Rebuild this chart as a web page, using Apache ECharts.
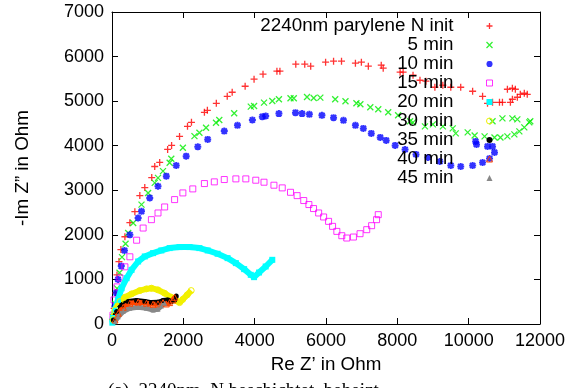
<!DOCTYPE html>
<html>
<head>
<meta charset="utf-8">
<script src="https://cdn.jsdelivr.net/npm/echarts@6/dist/echarts.min.js"></script>
<style>
  html, body { margin: 0; padding: 0; background: #fff; }
  #chart { width: 582px; height: 388px; }
</style>
</head>
<body>
<div id="chart"></div>
<script>
// legend names
const seriesNames = ['2240nm parylene N init', '5 min', '10 min', '15 min', '20 min', '30 min', '35 min', '40 min', '45 min'];

// axis ticks
const xTicks = [0, 2000, 4000, 6000, 8000, 10000, 12000];
const yTicks = [0, 1000, 2000, 3000, 4000, 5000, 6000, 7000];

// [Re Z', -Im Z''] in Ohm
const initPts = [[20,100],[60,350],[100,700],[140,1100],[195,1400],[250,1670],[362,1958],[501,2273],[641,2521],[780,2881],[919,3061],[1114,3286],[1198,3534],[1337,3624],[1560,3916],[1671,4006],[1894,4209],[2117,4434],[2228,4524],[2591,4749],[2674,4794],[2925,4952],[3231,5109],[3370,5199],[3733,5334],[3983,5492],[4234,5604],[4624,5672],[4708,5672],[5153,5829],[5404,5829],[5571,5784],[5989,5874],[6212,5897],[6435,5897],[6825,5852],[6992,5874],[7187,5784],[7549,5807],[7604,5739],[8078,5649],[8162,5649],[8440,5582],[8635,5469],[8802,5447],[9053,5312],[9276,5357],[9499,5312],[9777,5312],[10111,5222],[10390,5109],[10529,4952],[10669,4974],[10864,4974],[10947,4974],[11170,4974],[11226,5042],[11365,5087],[11448,5154],[11560,5177],[11643,5154],[11086,5267],[11226,5289],[11309,5267]];
const min5Pts = [[30,150],[90,450],[140,800],[210,1150],[280,1500],[380,1800],[454,2041],[594,2266],[827,2678],[1012,2941],[1198,3166],[1290,3279],[1430,3429],[1616,3616],[1662,3706],[1987,3953],[2312,4216],[2451,4291],[2637,4404],[2916,4517],[3008,4576],[3426,4727],[3891,4877],[3983,4892],[4262,4967],[4494,5004],[4680,5042],[5005,5064],[5097,5064],[5468,5094],[5655,5072],[5841,5079],[6258,5042],[6546,4997],[6853,4952],[6964,4929],[7242,4862],[7465,4817],[7744,4749],[8022,4682],[8357,4547],[8440,4524],[8774,4434],[8997,4479],[9276,4434],[9554,4389],[9638,4276],[9972,4299],[10167,4231],[10446,4209],[10724,4186],[10891,4186],[11086,4209],[11281,4254],[11421,4321],[11560,4411],[11699,4524],[11727,4547],[10669,4547],[10947,4614],[11226,4614],[11365,4591]];
const min10Pts = [[30,120],[80,400],[120,700],[170,1000],[260,1300],[350,1650],[501,2003],[733,2378],[827,2528],[1058,2829],[1290,3091],[1523,3316],[1801,3556],[2080,3766],[2405,3977],[2683,4141],[3148,4329],[3518,4457],[3936,4576],[4215,4652],[4309,4667],[4680,4720],[5144,4742],[5329,4720],[5534,4704],[5886,4682],[6212,4630],[6490,4569],[6825,4457],[7047,4389],[7270,4276],[7521,4186],[7688,4119],[7939,4006],[8217,3916],[8524,3804],[8858,3736],[9192,3646],[9499,3556],[9777,3534],[10111,3556],[10390,3624],[10585,3714],[10724,3849],[10669,3984],[10529,3984],[10195,4096],[10220,4030]];
const min15Pts = [[28,200],[56,540],[139,833],[223,1035],[362,1283],[501,1508],[690,1880],[873,2153],[1105,2341],[1290,2491],[1476,2626],[1755,2791],[1987,2941],[2265,3031],[2591,3151],[2869,3189],[3148,3241],[3473,3256],[3752,3256],[4031,3226],[4262,3181],[4540,3114],[4773,3054],[5005,2955],[5190,2880],[5376,2770],[5520,2680],[5650,2590],[5794,2491],[5933,2401],[6072,2303],[6184,2191],[6304,2078],[6443,1981],[6582,1929],[6769,1951],[6955,2026],[7142,2116],[7279,2206],[7418,2341],[7465,2453]];
const min20Pts = [[10,30],[28,135],[84,315],[167,540],[270,803],[409,1028],[548,1215],[733,1402],[919,1515],[1151,1590],[1384,1650],[1616,1703],[1894,1726],[2173,1726],[2451,1703],[2683,1650],[2961,1576],[3240,1478],[3473,1366],[3705,1231],[3891,1103],[3983,1051],[4123,1155],[4309,1290],[4494,1440]];
const min30Pts = [[30,100],[84,315],[223,503],[362,600],[548,675],[780,750],[966,788],[1105,803],[1290,765],[1476,690],[1662,600],[1801,525],[1894,480],[1987,555],[2108,653],[2220,750]];
const min35Pts = [[37,90],[130,278],[270,428],[454,503],[687,525],[919,503],[1105,480],[1290,488],[1430,525],[1569,540],[1662,503],[1755,540],[1801,630]];
const min40Pts = [[84,90],[176,240],[315,375],[501,465],[733,488],[966,465],[1151,443],[1290,450],[1430,480],[1523,450],[1616,480],[1708,540],[1755,600]];
const min45Pts = [[84,52],[176,165],[315,278],[501,353],[733,375],[966,353],[1151,315],[1290,330],[1384,405],[1476,465]];

const FONT = 'Liberation Sans, Arial, sans-serif';
const PLUS = 'path://M0,4L8,4M4,0L4,8';
const CROSS = 'path://M0,0L8,8M0,8L8,0';
const STAR = 'path://M0,4L8,4M4,0L4,8M1,1L7,7M1,7L7,1';

const chart = echarts.init(document.getElementById('chart'));

function hollow(c, w) {
  return { color: 'none', borderColor: c, borderWidth: w };
}

// gnuplot-style point types
const marks = [
  { data: initPts, symbol: PLUS, size: 7, style: hollow('#ff0000', 1.3) },
  { data: min5Pts, symbol: CROSS, size: 6, style: hollow('#00ee00', 1.3) },
  { data: min10Pts, symbol: STAR, size: 7, style: hollow('#0000ff', 2) },
  { data: min15Pts, symbol: 'rect', size: 6, style: hollow('#ff00ff', 1) },
  { data: min20Pts, symbol: 'rect', size: 6, style: { color: '#00ffff' }, line: '#00ffff', lw: 6 },
  { data: min30Pts, symbol: 'circle', size: 6, style: hollow('#f2f000', 1), line: '#f2f000', lw: 6 },
  { data: min35Pts, symbol: 'circle', size: 5, style: { color: '#000000' }, line: '#000000', lw: 5 },
  { data: min40Pts, symbol: 'triangle', size: 6, style: hollow('#ff4500', 1), line: '#ff4500', lw: 5 },
  { data: min45Pts, symbol: 'triangle', size: 5, style: { color: '#888888' }, line: '#888888', lw: 5 },
];

const series = marks.map((m, i) => {
  const s = {
    name: seriesNames[i],
    type: m.line ? 'line' : 'scatter',
    data: m.data,
    symbol: m.symbol,
    symbolSize: m.size,
    itemStyle: m.style,
    emphasis: { disabled: true },
  };
  if (m.line) {
    s.showSymbol = true;
    s.lineStyle = { color: m.line, width: m.lw };
  }
  return s;
});

function axisCommon(ticks) {
  return {
    type: 'value',
    min: ticks[0],
    max: ticks[ticks.length - 1],
    interval: ticks[1] - ticks[0],
    axisLine: { show: true, onZero: false, lineStyle: { color: '#000', width: 1 } },
    axisTick: { show: true, inside: true, length: 6, lineStyle: { color: '#000' } },
    splitLine: { show: false },
  };
}

const plainNum = (v) => String(v);

const option = {
  animation: false,
  backgroundColor: '#fff',
  grid: { left: 112, right: 42, top: 12, bottom: 64 },
  xAxis: [
    Object.assign(axisCommon(xTicks), {
      position: 'bottom',
      name: 'Re Z\u2019 in Ohm',
      nameLocation: 'middle',
      nameGap: 28,
      nameTextStyle: { fontFamily: FONT, fontSize: 18.8, color: '#000' },
      axisLabel: { fontFamily: FONT, fontSize: 18, color: '#000', margin: 8, formatter: plainNum },
    }),
    Object.assign(axisCommon(xTicks), { position: 'top', axisLabel: { show: false } }),
  ],
  yAxis: [
    Object.assign(axisCommon(yTicks), {
      position: 'left',
      name: '-Im Z\u201d in Ohm',
      nameLocation: 'middle',
      nameGap: 80,
      nameTextStyle: { fontFamily: FONT, fontSize: 18.8, color: '#000' },
      axisLabel: { fontFamily: FONT, fontSize: 18, color: '#000', margin: 8, formatter: plainNum },
    }),
    Object.assign(axisCommon(yTicks), { position: 'right', axisLabel: { show: false } }),
  ],
  legend: {
    orient: 'vertical',
    right: 87,
    top: 16.5,
    align: 'right',
    padding: 0,
    itemGap: 0,
    itemWidth: 6,
    itemHeight: 6,
    selectedMode: false,
    textStyle: { fontFamily: FONT, fontSize: 18.8, color: '#000', lineHeight: 19, padding: [0, 28, 0, 0] },
    data: seriesNames.map((n, i) => ({ name: n, icon: marks[i].symbol, itemStyle: marks[i].style })),
  },
  graphic: [
    {
      type: 'text',
      left: 108,
      top: 382,
      style: { text: '(a)  2240nm  N beschichtet, beheizt', font: '19px "Liberation Serif", serif', fill: '#000' },
    },
  ],
  series: series,
};

chart.setOption(option);
</script>
</body>
</html>
